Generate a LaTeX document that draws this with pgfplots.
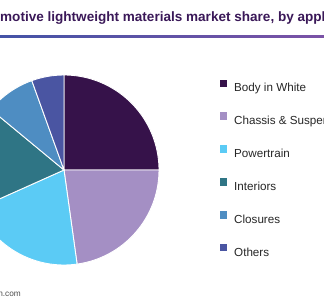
\documentclass[border=0pt]{standalone}
\usepackage{pgfplots}
\pgfplotsset{compat=1.18}
\usepackage{pgfplotstable}
\usepackage{fontspec}
\setmainfont{Liberation Sans}
\definecolor{c0}{HTML}{36124A}
\definecolor{c1}{HTML}{A48FC4}
\definecolor{c2}{HTML}{5BCBF5}
\definecolor{c3}{HTML}{2F7585}
\definecolor{c4}{HTML}{4E8DC2}
\definecolor{c5}{HTML}{4A55A2}
\definecolor{titlecol}{HTML}{3A1858}
\definecolor{lineL}{HTML}{4453A6}
\definecolor{lineR}{HTML}{7B52A6}
\pgfplotstableread{
label share
BodyInWhite 25.0
Chassis 22.8
Powertrain 20.5
Interiors 17.7
Closures 8.5
Others 5.5
}\sharetable
\begin{document}
\begin{tikzpicture}
\useasboundingbox (0,0) rectangle (324bp,300bp);
\clip (0,0) rectangle (324bp,300bp);
\begin{axis}[
  at={(0,0)}, anchor=south west,
  scale only axis, width=324bp, height=300bp,
  xmin=0, xmax=324, ymin=0, ymax=300,
  hide axis, clip=false,
  legend cell align=left,
  legend style={at={(axis cs:220,220.5)}, anchor=north west, draw=none, fill=none,
    inner sep=0pt, outer sep=0pt, row sep=20.5bp, column sep=6.8bp,
    font=\fontsize{11.7}{14}\selectfont, text=black!85,
    nodes={inner sep=0pt, text height=8.5bp, text depth=0pt}},
  legend image code/.code={\fill[#1, draw=none] (0bp,1bp) rectangle (7.4bp,8.2bp);},
]
\def\startangle{90}
\pgfplotsforeachungrouped \i in {0,...,5}{%
  \pgfplotstablegetelem{\i}{share}\of\sharetable
  \pgfmathsetmacro\endangle{\startangle-3.6*\pgfplotsretval}%
  \edef\temp{\noexpand\filldraw[fill=c\i, draw=white, line width=0.9bp] (axis cs:64,130) -- ++(\startangle:95bp) arc[start angle=\startangle, end angle=\endangle, radius=95bp] -- cycle;}%
  \temp
  \global\let\startangle\endangle
}
\addlegendimage{fill=c0}\addlegendentry{Body in White}
\addlegendimage{fill=c1}\addlegendentry{Chassis \& Suspension}
\addlegendimage{fill=c2}\addlegendentry{Powertrain}
\addlegendimage{fill=c3}\addlegendentry{Interiors}
\addlegendimage{fill=c4}\addlegendentry{Closures}
\addlegendimage{fill=c5}\addlegendentry{Others}
\node[anchor=base west, inner sep=0pt, text=titlecol, font=\bfseries\fontsize{13.6}{15}\selectfont] at (axis cs:0,278.5) {\llap{Auto}motive lightweight materials market share, by application};
\shade[left color=lineL, right color=lineR] (axis cs:0,262) rectangle (axis cs:324,264);
\node[anchor=base east, inner sep=0pt, text=black!70, font=\fontsize{8.3}{10}\selectfont] at (axis cs:21,4) {Source: www.grandviewresearch.com};
\end{axis}
\end{tikzpicture}
\end{document}
